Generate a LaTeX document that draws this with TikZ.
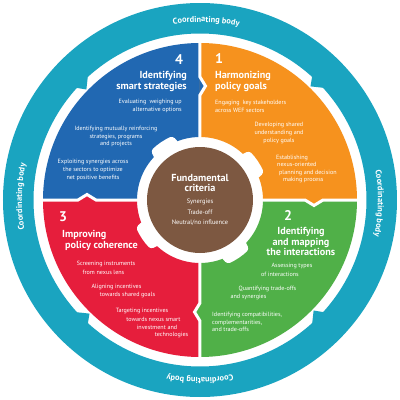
\documentclass[tikz,border=0pt]{standalone}
\usepackage{fontspec}
\setmainfont{PT Sans}
\usetikzlibrary{decorations.text}
\definecolor{tealc}{RGB}{26,164,192}
\definecolor{blueq}{RGB}{33,104,178}
\definecolor{orangeq}{RGB}{246,146,30}
\definecolor{greenq}{RGB}{80,176,72}
\definecolor{redq}{RGB}{230,30,60}
\definecolor{brownc}{RGB}{125,88,65}
\newcommand{\ringfont}{\bfseries\fontsize{8.4}{9}\selectfont}
\begin{document}
\begin{tikzpicture}[x=1pt,y=1pt,
  body/.style={text=white, font=\fontsize{6.1}{7.6}\selectfont, inner sep=0pt, align=center},
  ttl/.style={text=white, font=\bfseries\fontsize{10.2}{10.8}\selectfont, inner sep=0pt},
  num/.style={text=white, font=\bfseries\fontsize{14}{14}\selectfont, inner sep=0pt},
  gap/.style={white, line width=3pt, line join=miter},
  ringtext/.style={decorate, decoration={text along path, text align=center, text color=white}}]
\useasboundingbox (-200,-200) rectangle (200,200);
\fill[white] (-200,-200) rectangle (200,200);
% outer ring
\fill[tealc, even odd rule] (0,0) circle (197) (0,0) circle (166.5);
\foreach \a in {135,45,-45,-135}{
  \fill[tealc] (\a+2.8:167) -- (\a+0.8:158.5) -- (\a-2.8:167) -- cycle;
}
% quadrants
\fill[blueq] (90:63) -- (90:157) arc[start angle=90,end angle=180,radius=157] -- (180:63) arc[start angle=180,end angle=90,radius=63] -- cycle;
\fill[orangeq] (0:63) -- (0:157) arc[start angle=0,end angle=90,radius=157] -- (90:63) arc[start angle=90,end angle=0,radius=63] -- cycle;
\fill[greenq] (-90:63) -- (-90:157) arc[start angle=-90,end angle=0,radius=157] -- (0:63) arc[start angle=0,end angle=-90,radius=63] -- cycle;
\fill[redq] (180:63) -- (180:157) arc[start angle=180,end angle=270,radius=157] -- (270:63) arc[start angle=270,end angle=180,radius=63] -- cycle;
% chevron tabs
\fill[blueq] (0,105) -- (5.5,114) -- (0,123) -- cycle;
\fill[orangeq] (105,0) -- (114,-5.5) -- (123,0) -- cycle;
\fill[greenq] (0,-103) -- (-5.5,-112) -- (0,-121) -- cycle;
\fill[redq] (-104,0) -- (-113,5.5) -- (-122,0) -- cycle;
\draw[gap] (0,55) -- (0,105) -- (5.5,114) -- (0,123) -- (0,158);
\draw[gap] (55,0) -- (105,0) -- (114,-5.5) -- (123,0) -- (158,0);
\draw[gap] (0,-55) -- (0,-103) -- (-5.5,-112) -- (0,-121) -- (0,-158);
\draw[gap] (-55,0) -- (-104,0) -- (-113,5.5) -- (-122,0) -- (-158,0);
% inner white lobes
\foreach \a in {124,34,-56,-146}{
  \fill[white, rounded corners=3pt] (\a+14:60) -- (\a+11:69.5) arc[start angle=\a+11,end angle=\a-11,radius=69.5] -- (\a-14:60) -- cycle;
}
% centre
\fill[brownc] (0,0) circle (53);
% ring texts
\path[ringtext, decoration={text={|\ringfont|Coordinating body}}] (118:178) arc[start angle=118,end angle=58,radius=178];
\path[ringtext, decoration={text={|\ringfont|Coordinating body}}] (29:178) arc[start angle=29,end angle=-31,radius=178];
\path[ringtext, decoration={text={|\ringfont|Coordinating body}}] (-60:178) arc[start angle=-60,end angle=-120,radius=178];
\path[ringtext, decoration={text={|\ringfont|Coordinating body}}] (-151:178) arc[start angle=-151,end angle=-211,radius=178];
% centre text
\node[ttl, align=center] (fc) at (0,17) {Fundamental\\criteria};
\node[body, font=\fontsize{6.4}{7}\selectfont] (fc1) at (0,-2) {Synergies};
\node[body, font=\fontsize{6.4}{7}\selectfont] (fc2) at (0,-12.5) {Trade-off};
\node[body, font=\fontsize{6.4}{7}\selectfont] (fc3) at (0,-23) {Neutral/no influence};
% quadrant 4 (blue)
\node[num] (n4) at (-21,140) {4};
\node[ttl, align=right, anchor=east] (t4) at (-13,118.5) {Identifying\\smart strategies};
\node[body, align=right, anchor=east] (b4a) at (-18,94) {Evaluating\ \ weighing up\\alternative options};
\node[body] (b4b) at (-84,63.5) {Identifying mutually reinforcing\\strategies, programs\\and projects};
\node[body] (b4c) at (-107,30) {Exploiting synergies across\\the sectors to optimize\\net positive benefits};
% quadrant 1 (orange)
\node[num] (n1) at (19,141) {1};
\node[ttl, align=left, anchor=west] (t1) at (15,118.5) {Harmonizing\\policy goals};
\node[body, align=left, anchor=west] (b1a) at (15,93.5) {Engaging\ \ key stakeholders\\across WEF sectors};
\node[body] (b1b) at (79,67) {Developing shared\\understanding and\\policy goals};
\node[body, align=left, anchor=west] (b1c) at (76,31) {Establishing\\\hspace*{1pt}nexus-oriented\\\hspace*{3pt}planning and decision\\\hspace*{7pt}making process};
% quadrant 2 (green)
\node[num] (n2) at (88,-15) {2};
\node[ttl, align=center] (t2) at (101,-41.5) {Identifying\\and mapping\\the interactions};
\node[body] (b2a) at (92,-66) {Assessing types};
\node[body] (b2b) at (80,-74) {of interactions};
\node[body] (b2c) at (67.5,-89) {Quantifying trade-offs};
\node[body] (b2d) at (48.5,-97) {and synergies};
\node[body, align=left, anchor=west] (b2e) at (12,-122) {Identifying compatibilities,\\complementarities,\\and trade-offs};
% quadrant 3 (red)
\node[num] (n3) at (-137,-17) {3};
\node[ttl, anchor=west] (t3a) at (-138,-35) {Improving};
\node[ttl, anchor=west] (t3b) at (-135,-45.5) {policy coherence};
\node[body] (b3a) at (-94,-64) {Screening instruments};
\node[body] (b3b) at (-96.5,-72) {from nexus lens};
\node[body] (b3c) at (-83.5,-87) {Aligning incentives};
\node[body] (b3d) at (-72.5,-95) {towards shared goals};
\node[body] (b3e) at (-58,-111) {Targeting incentives};
\node[body] (b3f) at (-46.5,-119) {towards nexus smart};
\node[body] (b3g) at (-43,-127) {investment and};
\node[body] (b3h) at (-28.5,-135) {technologies};
\end{tikzpicture}
\end{document}
